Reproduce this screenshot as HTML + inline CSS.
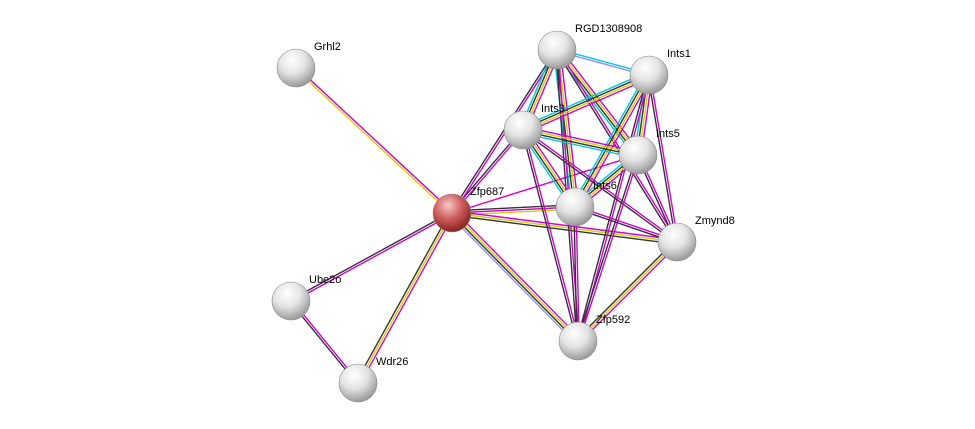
<!DOCTYPE html>
<html><head><meta charset="utf-8"><style>
html,body{margin:0;padding:0;background:#fff;}
svg{display:block;}
text{font-family:"Liberation Sans",sans-serif;font-size:11px;fill:#000;}
</style></head><body>
<svg id="s" width="975" height="429" xmlns="http://www.w3.org/2000/svg">
<defs>
<radialGradient id="g" cx="40%" cy="30%" r="70%">
<stop offset="0" stop-color="#ffffff"/><stop offset="0.5" stop-color="#e4e4e4"/><stop offset="1" stop-color="#9a9a9a"/>
</radialGradient>
<radialGradient id="r" cx="40%" cy="30%" r="70%">
<stop offset="0" stop-color="#f6c8c8"/><stop offset="0.5" stop-color="#d06060"/><stop offset="1" stop-color="#8a2020"/>
</radialGradient>
</defs>
<g id="e"></g><g id="n"></g>
</svg>
<script>
var N={Grhl2:[296,68],Zfp687:[452,213],RGD1308908:[557,50],Ints1:[649,75],Ints3:[523,130],Ints5:[638,155],Ints6:[575,207],Zmynd8:[677,242],Zfp592:[578,341],Ube2o:[291,301],Wdr26:[358,383]};
var M="#d400d4",Y="#c8d800",K="#333",C="#00c8d8",B="#9090ff";
var E=[
["Grhl2","Zfp687",[M,Y]],["Zfp687","Ube2o",[M,K]],["Zfp687","Wdr26",[M,Y,K]],["Ube2o","Wdr26",[M,K]],
["Zfp687","Zfp592",[M,Y,K,B]],["Zfp687","Ints3",[K,M]],["Zfp687","RGD1308908",[K,M]],["Zfp687","Ints6",[K,M,Y]],
["Zfp687","Zmynd8",[M,Y,K]],["Zfp687","Ints5",[M]],
["RGD1308908","Ints1",[C,B]],["RGD1308908","Ints3",[M,Y,K,C]],["RGD1308908","Ints5",[M,Y,K,C]],["RGD1308908","Ints6",[M,Y,K,C]],
["RGD1308908","Zmynd8",[M,K]],["RGD1308908","Zfp592",[M,K]],["Ints1","Ints3",[M,Y,K,C]],["Ints1","Ints5",[M,Y,K,C]],
["Ints1","Ints6",[M,Y,K,C]],["Ints1","Zmynd8",[M,K]],["Ints1","Zfp592",[M,K]],["Ints3","Ints5",[M,Y,K,C]],
["Ints3","Ints6",[M,Y,K,C]],["Ints3","Zmynd8",[M,K]],["Ints3","Zfp592",[M,K]],["Ints5","Ints6",[M,Y,K,C]],
["Ints5","Zmynd8",[M,K]],["Ints5","Zfp592",[M,K]],["Ints6","Zmynd8",[M,K]],["Ints6","Zfp592",[M,K]],["Zmynd8","Zfp592",[M,Y,K]]];
var ns="http://www.w3.org/2000/svg",eg=document.getElementById("e"),ng=document.getElementById("n");
E.forEach(function(e){var a=N[e[0]],b=N[e[1]],dx=b[0]-a[0],dy=b[1]-a[1],L=Math.hypot(dx,dy),px=-dy/L,py=dx/L,n=e[2].length;
e[2].forEach(function(c,i){var o=(i-(n-1)/2)*2.2;var l=document.createElementNS(ns,"line");
l.setAttribute("x1",a[0]+px*o);l.setAttribute("y1",a[1]+py*o);l.setAttribute("x2",b[0]+px*o);l.setAttribute("y2",b[1]+py*o);
l.setAttribute("stroke",c);l.setAttribute("stroke-width","1.4");eg.appendChild(l);});});
for(var k in N){var p=N[k];var c=document.createElementNS(ns,"circle");c.setAttribute("cx",p[0]);c.setAttribute("cy",p[1]);c.setAttribute("r",k=="Zfp687"?19:19);
c.setAttribute("fill",k=="Zfp687"?"url(#r)":"url(#g)");c.setAttribute("stroke","#888");c.setAttribute("stroke-width","0.6");ng.appendChild(c);
var t=document.createElementNS(ns,"text");t.setAttribute("x",p[0]+18);t.setAttribute("y",p[1]-18);t.textContent=k;ng.appendChild(t);}
</script>
</body></html>
